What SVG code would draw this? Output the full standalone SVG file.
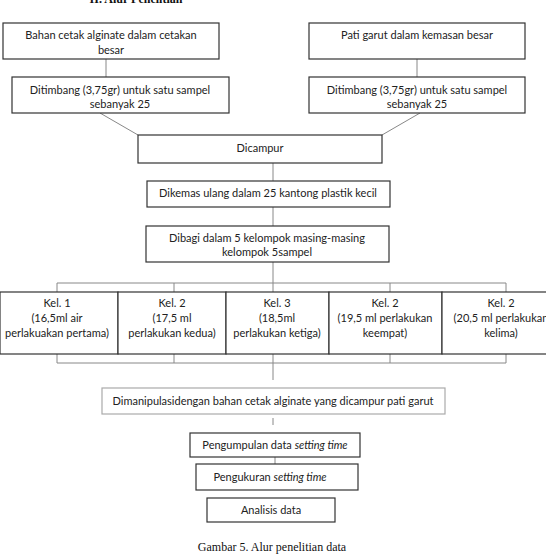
<svg xmlns="http://www.w3.org/2000/svg" width="546" height="555" viewBox="0 0 546 555">
<style>
.b{fill:#fff;stroke:#333;stroke-width:1.2}
.bl{fill:#fff;stroke:#aaa;stroke-width:1.2}
.t{font-family:Lato,"Open Sans",sans-serif;font-size:11px;fill:#222;text-anchor:middle}
.c{stroke:#888;stroke-width:1;fill:none}
.cap{font-family:"Liberation Serif",serif;font-size:12px;fill:#111;text-anchor:middle}
</style>
<rect width="546" height="555" fill="#fff"/>
<text x="136" y="3" class="cap" font-weight="bold">II. Alur Penelitian</text>
<g id="connectors">
<line class="c" x1="106" y1="59" x2="106" y2="77"/>
<line class="c" x1="417" y1="59" x2="417" y2="77"/>
<line class="c" x1="100" y1="113" x2="138" y2="135"/>
<line class="c" x1="420" y1="113" x2="382" y2="135"/>
<line class="c" x1="273" y1="163" x2="273" y2="181"/>
<line class="c" x1="273" y1="207" x2="273" y2="226"/>
<line class="c" x1="273" y1="262" x2="273" y2="283"/>
<polyline class="c" points="57,292 57,283 506,283 506,292"/>
<line class="c" x1="174" y1="283" x2="174" y2="292"/>
<line class="c" x1="273" y1="283" x2="273" y2="292"/>
<line class="c" x1="390" y1="283" x2="390" y2="292"/>
<polyline class="c" points="57,354 57,363 506,363 506,354"/>
<line class="c" x1="174" y1="354" x2="174" y2="363"/>
<line class="c" x1="273" y1="354" x2="273" y2="380"/>
<line class="c" x1="390" y1="354" x2="390" y2="363"/>
<line class="c" x1="273" y1="418" x2="273" y2="425"/>
<line class="c" x1="275" y1="457" x2="275" y2="464"/>
</g>
<g id="n1"><rect class="b" x="3" y="23" width="216" height="36"/><text class="t" x="111" y="39">Bahan cetak alginate dalam cetakan</text><text class="t" x="111" y="54">besar</text></g>
<g id="n2"><rect class="b" x="309" y="23" width="216" height="36"/><text class="t" x="417" y="39">Pati garut dalam kemasan besar</text></g>
<g id="n3"><rect class="b" x="12" y="77" width="217" height="36"/><text class="t" x="120" y="94">Ditimbang (3,75gr) untuk satu sampel</text><text class="t" x="120" y="108">sebanyak 25</text></g>
<g id="n4"><rect class="b" x="309" y="77" width="216" height="36"/><text class="t" x="417" y="94">Ditimbang (3,75gr) untuk satu sampel</text><text class="t" x="417" y="108">sebanyak 25</text></g>
<g id="n5"><rect class="b" x="138" y="135" width="244" height="28"/><text class="t" x="260" y="152">Dicampur</text></g>
<g id="n6"><rect class="b" x="147" y="181" width="243" height="26"/><text class="t" x="268" y="197">Dikemas ulang dalam 25 kantong plastik kecil</text></g>
<g id="n7"><rect class="b" x="146" y="226" width="243" height="36"/><text class="t" x="267" y="242">Dibagi dalam 5 kelompok masing-masing</text><text class="t" x="267" y="256">kelompok 5sampel</text></g>
<g id="k1"><rect class="b" x="0" y="292" width="118" height="62"/><text class="t" x="57" y="307">Kel. 1</text><text class="t" x="57" y="322">(16,5ml air</text><text class="t" x="57" y="337">perlakuakan pertama)</text></g>
<g id="k2"><rect class="b" x="118" y="292" width="108" height="62"/><text class="t" x="172" y="307">Kel. 2</text><text class="t" x="172" y="322">(17,5 ml</text><text class="t" x="172" y="337">perlakukan kedua)</text></g>
<g id="k3"><rect class="b" x="226" y="292" width="103" height="62"/><text class="t" x="277" y="307">Kel. 3</text><text class="t" x="277" y="322">(18,5ml</text><text class="t" x="277" y="337">perlakukan ketiga)</text></g>
<g id="k4"><rect class="b" x="329" y="292" width="113" height="62"/><text class="t" x="385" y="307">Kel. 2</text><text class="t" x="385" y="322">(19,5 ml perlakukan</text><text class="t" x="385" y="337">keempat)</text></g>
<g id="k5"><rect class="b" x="442" y="292" width="110" height="62"/><text class="t" x="501" y="307">Kel. 2</text><text class="t" x="501" y="322">(20,5 ml perlakukan</text><text class="t" x="501" y="337">kelima)</text></g>
<g id="n8"><rect class="bl" x="102" y="388" width="343" height="26"/><text class="t" x="273" y="405">Dimanipulasidengan bahan cetak alginate yang dicampur pati garut</text></g>
<g id="n9"><rect class="b" x="190" y="433" width="170" height="24"/><text class="t" x="275" y="449">Pengumpulan data <tspan font-style="italic">setting time</tspan></text></g>
<g id="n10"><rect class="b" x="196" y="464" width="162" height="26"/><text class="t" x="270" y="481">Pengukuran <tspan font-style="italic">setting time</tspan></text></g>
<g id="n11"><rect class="b" x="207" y="498" width="128" height="24"/><text class="t" x="271" y="514">Analisis data</text></g>
<text class="cap" x="272" y="551">Gambar 5. Alur penelitian data</text>
</svg>
